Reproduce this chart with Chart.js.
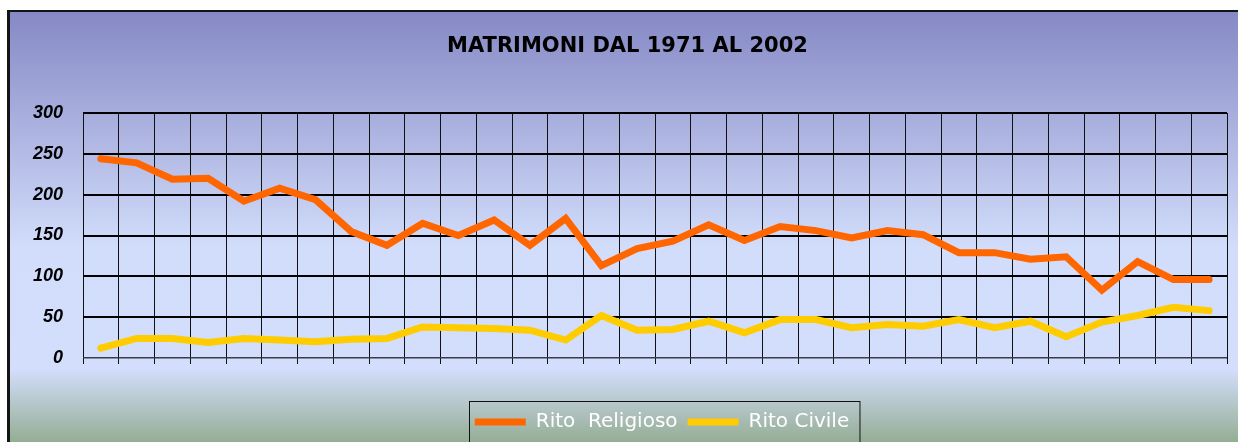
<!DOCTYPE html>
<html>
<head>
<meta charset="utf-8">
<script src="https://cdn.jsdelivr.net/npm/chart.js@4/dist/chart.umd.min.js"></script>
<style>
  html, body { margin: 0; padding: 0; background: #fff; overflow: hidden; }
  #wrap { width: 1238px; height: 442px; }
</style>
</head>
<body>
<div id="wrap"><canvas id="chart" width="1238" height="442"></canvas></div>
<script>
// anni 1971 - 2002
const years = [];
for (let y = 1971; y <= 2002; y++) years.push(String(y));

const ritoReligioso = [244, 239, 219, 220, 192, 208, 194, 155, 138, 165, 150, 169, 138, 171, 113, 134,
                       143, 163, 144, 161, 156, 147, 156, 151, 129, 129, 121, 124, 83, 118, 96, 96];
const ritoCivile = [12, 24, 24, 19, 24, 22, 20, 23, 24, 38, 37, 36, 34, 22, 52, 34,
                    35, 45, 31, 47, 47, 37, 41, 39, 47, 37, 45, 26, 44, 52, 62, 58];

const yTicks = [0, 50, 100, 150, 200, 250, 300];

const seriesNames = ['Rito  Religioso', 'Rito Civile'];
const titleText = 'MATRIMONI DAL 1971 AL 2002';

const comic = "'Comic Sans MS', 'DejaVu Sans', sans-serif";

// sfondo sfumato + cornice
const backgroundPlugin = {
    id: 'sfondo',
    beforeDraw(chart) {
        const { ctx, width, height } = chart;
        ctx.save();
        ctx.fillStyle = '#ffffff';
        ctx.fillRect(0, 0, width, height);
        ctx.fillStyle = '#141414';
        ctx.fillRect(7, 10, width, height);
        const g = ctx.createLinearGradient(0, 12, 0, height);
        g.addColorStop(0, '#8689c5');
        g.addColorStop(0.55, '#d2ddfb');
        g.addColorStop(0.83, '#d3defc');
        g.addColorStop(1, '#95ad94');
        ctx.fillStyle = g;
        ctx.fillRect(10, 12, width, height);
        ctx.restore();
    }
};

// sposta titolo e legenda, disegna il riquadro della legenda
const legendBoxPlugin = {
    id: 'riquadroLegenda',
    afterUpdate(chart) {
        const t = chart.titleBlock;
        if (t) { t.left += 14; t.right += 14; }
        const legend = chart.legend;
        const hb = legend.legendHitBoxes;
        if (!hb || !hb.length) return;
        const l = hb[0].left;
        const last = hb[hb.length - 1];
        const r = last.left + last.width;
        const shift = 662 - (l + r) / 2;
        legend.left += shift;
        legend.right += shift;
        hb.forEach(h => h.left += shift);
    },
    afterDraw(chart) {
        const hb = chart.legend.legendHitBoxes;
        if (!hb || !hb.length) return;
        const { ctx } = chart;
        const last = hb[hb.length - 1];
        const left = hb[0].left - 6;
        const right = last.left + last.width + 10;
        const top = hb[0].top - 11;
        ctx.save();
        ctx.strokeStyle = '#111';
        ctx.lineWidth = 1;
        ctx.strokeRect(Math.round(left) + 0.5, Math.round(top) + 0.5, right - left, chart.height);
        ctx.restore();
    }
};

new Chart(document.getElementById('chart'), {
    type: 'line',
    data: {
        labels: years,
        datasets: [
            {
                label: seriesNames[0],
                data: ritoReligioso,
                borderColor: '#ff6600',
                backgroundColor: '#ff6600',
                borderWidth: 7,
                borderCapStyle: 'round',
                pointRadius: 0,
                tension: 0
            },
            {
                label: seriesNames[1],
                data: ritoCivile,
                borderColor: '#ffcc00',
                backgroundColor: '#ffcc00',
                borderWidth: 7,
                borderCapStyle: 'round',
                pointRadius: 0,
                tension: 0
            }
        ]
    },
    plugins: [backgroundPlugin, legendBoxPlugin],
    options: {
        responsive: false,
        animation: false,
        layout: {
            padding: { top: 0, left: 0, right: 11, bottom: 0 }
        },
        scales: {
            x: {
                offset: true,
                ticks: { display: false },
                grid: {
                    offset: true,
                    color: '#111',
                    lineWidth: 1,
                    drawTicks: true,
                    tickLength: 6
                },
                border: { display: false },
                afterFit: (scale) => { scale.height = 44; }
            },
            y: {
                min: 0,
                max: 300,
                afterBuildTicks: (scale) => { scale.ticks = yTicks.map(v => ({ value: v })); },
                ticks: {
                    color: '#000',
                    padding: 20,
                    font: { family: "'Liberation Sans', Arial, sans-serif", size: 18, weight: 'bold', style: 'italic' }
                },
                grid: {
                    color: (c) => c.tick && c.tick.value === 0 ? '#3a3a48' : '#000',
                    lineWidth: (c) => c.tick && c.tick.value === 0 ? 1.5 : 2,
                    drawTicks: false
                },
                border: { display: false },
                afterFit: (scale) => { scale.width = 83; }
            }
        },
        plugins: {
            title: {
                display: true,
                text: titleText,
                color: '#000',
                font: { family: comic, size: 21, weight: 'bold', lineHeight: 1.2 },
                padding: { top: 34.4, bottom: 53.4 }
            },
            legend: {
                display: true,
                position: 'bottom',
                labels: {
                    color: '#ffffff',
                    usePointStyle: true,
                    pointStyle: 'line',
                    pointStyleWidth: 51,
                    padding: 10,
                    font: { family: comic, size: 20 }
                }
            },
            tooltip: { enabled: false }
        }
    }
});
</script>
</body>
</html>
